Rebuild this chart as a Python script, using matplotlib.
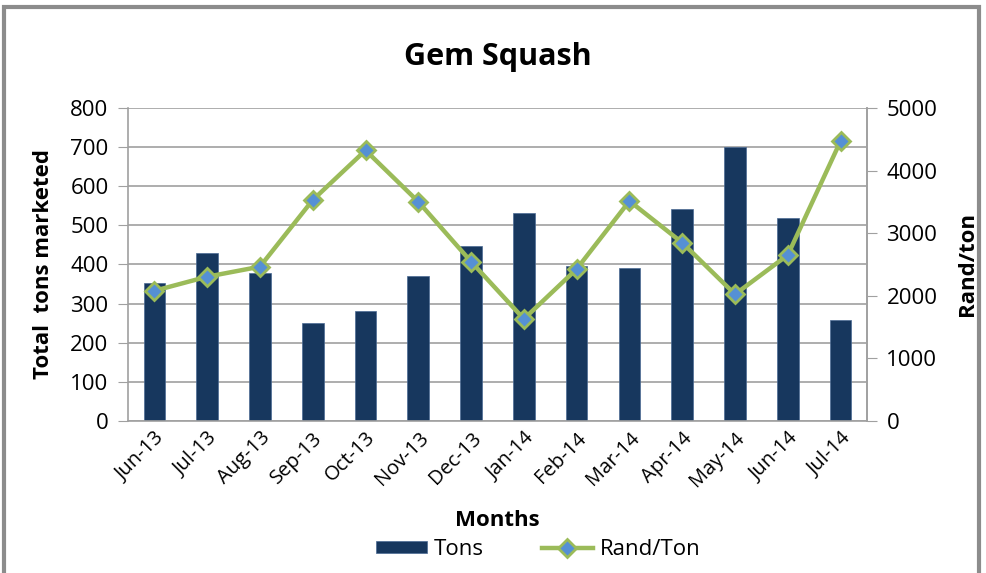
import matplotlib
matplotlib.use("Agg")
import matplotlib.pyplot as plt
import numpy as np
from matplotlib.patches import Rectangle

months = ["Jun-13", "Jul-13", "Aug-13", "Sep-13", "Oct-13", "Nov-13", "Dec-13",
          "Jan-14", "Feb-14", "Mar-14", "Apr-14", "May-14", "Jun-14", "Jul-14"]
tons = [352, 430, 378, 250, 280, 371, 447, 532, 395, 391, 542, 701, 519, 257]
rand_per_ton = [2080, 2305, 2465, 3530, 4324, 3503, 2545, 1630, 2428, 3514, 2848, 2024, 2652, 4473]
left_ticks = [0, 100, 200, 300, 400, 500, 600, 700, 800]
right_ticks = [0, 1000, 2000, 3000, 4000, 5000]

plt.rcParams['font.family'] = ['Open Sans', 'DejaVu Sans']

fig = plt.figure(figsize=(9.86, 5.73), dpi=100)
fig.patches.append(Rectangle((0.004, -0.01), 0.989, 0.998, transform=fig.transFigure,
                             fill=False, edgecolor='#8c8c8c', linewidth=3))

ax = fig.add_axes([0.1298, 0.2653, 0.7495, 0.5462])
x = np.arange(len(months))
ax.bar(x, tons, width=0.41, color='#17375E', edgecolor='#4a6a94', linewidth=0.5, zorder=2, label='Tons')
ax.set_ylim(0, 800)
ax.set_xlim(-0.5, len(months) - 0.5)
ax.set_yticks(left_ticks)
ax.yaxis.grid(True, color='#a0a0a0', linewidth=1.2, zorder=0)
ax.set_axisbelow(True)
ax.spines['top'].set_visible(False)
for s in ['left', 'bottom', 'right']:
    ax.spines[s].set_color('#a0a0a0')
    ax.spines[s].set_linewidth(1.2)
ax.tick_params(axis='y', length=7, color='#a0a0a0', labelsize=16, pad=7)
ax.tick_params(axis='x', length=0, labelsize=14.5, pad=5)
ax.set_xticks(x)
ax.set_xticklabels(months, rotation=45, ha='right', rotation_mode='anchor')
ax.set_ylabel('Total  tons marketed', fontsize=16, fontweight='bold', labelpad=12)
ax.set_xlabel('Months', fontsize=16, fontweight='bold')
ax.xaxis.set_label_coords(0.5, -0.285)
ax.set_title('Gem Squash', fontsize=22, fontweight='bold', pad=31)

ax2 = ax.twinx()
ax2.plot(x, rand_per_ton, color='#9BBB59', linewidth=3.2, marker='D', markersize=9,
         markerfacecolor='#5590D4', markeredgecolor='#9BBB59', markeredgewidth=2, zorder=3,
         label='Rand/Ton')
ax2.set_ylim(0, 5000)
ax2.set_yticks(right_ticks)
for s in ['top', 'left', 'bottom']:
    ax2.spines[s].set_visible(False)
ax2.spines['right'].set_color('#a0a0a0')
ax2.spines['right'].set_linewidth(1.2)
ax2.tick_params(axis='y', length=7, color='#a0a0a0', labelsize=16, pad=7)
ax2.set_ylabel('Rand/ton', fontsize=16, fontweight='bold', labelpad=14)

h1, l1 = ax.get_legend_handles_labels()
h2, l2 = ax2.get_legend_handles_labels()
fig.legend(h1 + h2, l1 + l2, loc='center', bbox_to_anchor=(0.546, 0.041), ncol=2,
           frameon=False, fontsize=16, handlelength=2.3, handleheight=0.5,
           columnspacing=2.6, handletextpad=0.3)

fig.savefig('out.png', dpi=100)
